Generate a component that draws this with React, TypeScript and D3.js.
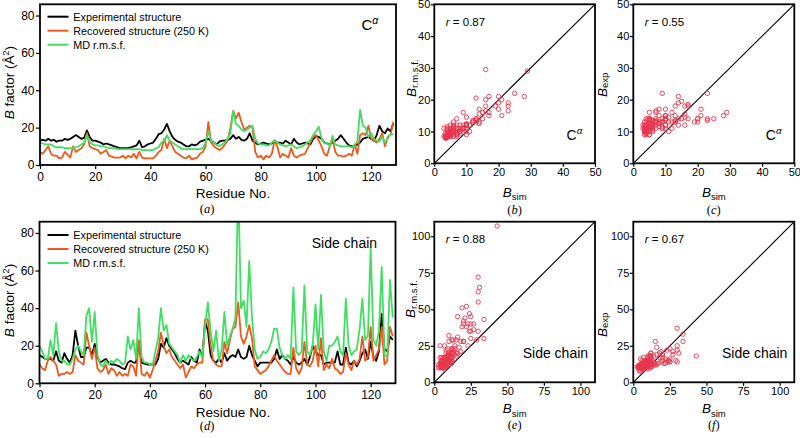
import { useEffect, useRef } from "react";
import * as d3 from "d3";

// B factors per residue (index 0..128), C-alpha atoms
const caExp = [
  13, 13.5, 13, 14, 13, 13.5, 12.5, 13, 13, 14,
  13.5, 14, 15, 16, 15, 14, 14.5, 18.5, 15, 13,
  13, 12.5, 12, 11, 11.5, 11, 10.5, 10, 9.5, 9,
  9, 9, 9, 9.5, 10, 10.5, 13, 9.5, 10, 11,
  11.5, 12, 14, 16.5, 17, 19, 22, 18, 15, 13.5,
  12.5, 12, 11, 10, 10, 11, 10.5, 11, 12.5, 13,
  13.5, 14, 13, 12, 11, 12.5, 13, 13, 13.5, 14,
  16, 14, 15, 13.5, 13, 14, 17, 13, 12, 11,
  11.5, 12, 11.5, 11, 11.5, 13, 12, 12, 11.5, 13,
  12, 11, 14, 12, 11, 11.5, 12, 11.5, 11, 14,
  15.5, 15, 14, 12, 11.5, 11, 12, 13, 14, 16,
  14, 12, 10.5, 10, 10, 11, 12, 14, 14.5, 15,
  14, 13, 16, 21, 18, 17, 19.5, 18, 22,
];
const caRec = [
  7, 6, 8, 10, 6, 5, 5, 3.5, 4, 7,
  5.5, 4, 10, 7, 8, 9, 11, 17, 10, 9,
  8.5, 8, 6, 7, 8, 5, 4.5, 4, 4, 4,
  5, 3.5, 5, 4, 6, 3.5, 7, 4, 3.5, 3.5,
  3.5, 3.5, 5, 7, 8, 14, 9, 13, 10, 7,
  6, 5, 4, 3.5, 5, 3, 3.5, 4, 6, 7,
  10, 23, 12, 10, 9, 8, 9, 11, 13, 20,
  29, 25, 28, 23, 19, 20, 21, 20, 7, 4,
  5, 3, 5, 4, 6, 13, 10, 4, 6, 5,
  4, 9, 5, 4, 5, 5.5, 6, 9, 12, 15,
  16, 13, 10, 6, 5, 10, 14, 7, 5, 5,
  4.5, 5, 6, 5, 11, 6, 16, 17, 16, 21,
  14, 13, 12, 14, 17, 10, 15, 16, 23,
];
const caMd = [
  12, 11.5, 11, 11, 11, 10, 9.5, 9.5, 9.5, 9,
  9, 9, 9, 9.5, 10, 11, 12, 16, 12.5, 11,
  10.5, 10.5, 10, 10, 9.5, 9, 9, 9, 8.5, 8.5,
  8.5, 8.5, 8.5, 8.5, 8.5, 8.5, 8.5, 8, 8, 8,
  8, 8, 9, 9.5, 12, 13, 16, 13, 12, 11,
  10, 9, 8.5, 8.5, 8.5, 8.5, 8.5, 8.5, 8.5, 9,
  12, 18, 13, 12, 11, 10, 11, 12, 14, 17,
  29, 22, 21, 19, 18, 19, 20, 21, 14, 11.5,
  11, 11, 10.5, 10.5, 12, 13.5, 12, 11, 10.5, 10,
  10.5, 11, 10, 9, 9.5, 10, 11, 12, 13.5, 16,
  18, 20.5, 14.5, 11.5, 12, 10, 15.5, 11, 10.5, 10,
  10, 10, 10, 9.5, 10, 13, 29.5, 21, 20, 15,
  17, 14, 13, 12.5, 15, 12, 14, 16.5, 16.5,
];

// side chain atoms
const scExp = [
  15, 14, 13, 13, 13, 12, 17, 12, 11, 16,
  13, 11, 15, 28, 20, 14, 14, 19, 19, 15,
  21, 14, 11, 12, 13, 11, 10, 10, 9.5, 9,
  8, 7.5, 11, 12, 11, 11, 22, 11, 10.5, 10,
  10, 10, 10, 13, 21, 19, 24, 20, 18, 16,
  13, 11, 12, 11, 10, 14, 12, 11, 18, 14,
  33, 28, 15, 12, 11, 13, 11, 16, 12, 14,
  15, 14, 18, 14, 13, 14, 20, 15, 12, 9,
  11, 11, 11, 11, 11, 13, 18, 13, 15, 13,
  12, 10, 14, 11, 10, 11, 13, 10, 14, 20,
  17, 15, 15, 10, 11, 11, 11, 11, 17, 10,
  10, 19, 11, 10, 12, 9, 12, 16, 18, 13,
  22, 14, 12, 17, 37, 18, 17, 25, 23,
];
const scRec = [
  10, 8, 7, 12, 14, 12, 10, 4, 5, 5,
  6, 5, 6, 15, 12, 11, 10, 27, 20, 13,
  19, 8, 6, 7, 10, 5, 8, 7, 4, 6,
  4, 5, 4, 10, 9, 4, 23, 5, 4, 6,
  3, 7, 12, 17, 27, 20, 16, 18, 14, 12,
  10, 8, 10, 3, 6, 9, 8, 10, 11, 11,
  34, 34, 20, 12, 10, 9, 9, 22, 16, 23,
  29, 30, 43, 25, 21, 25, 31, 24, 9, 7,
  5, 6, 7, 9, 12, 15, 12, 10, 8, 6,
  5, 5, 19, 8, 5, 8, 22, 10, 9, 12,
  20, 9, 24, 7, 10, 8, 13, 8, 7, 5,
  6, 16, 10, 7, 12, 10, 13, 25, 12, 14,
  30, 12, 15, 18, 30, 10, 12, 30, 25,
];
const scMd = [
  20, 17, 13, 13, 23, 15, 32, 17, 12, 12,
  10, 10, 13, 18, 20, 17, 15, 36, 40, 22,
  38, 15, 10, 9, 12, 10, 12, 11, 13, 12,
  10, 11, 25, 18, 23, 13, 40, 14, 11, 11,
  10, 10, 17, 24, 40, 28, 31, 21, 19, 17,
  15, 11, 15, 12, 15, 13, 12, 14, 17, 14,
  30, 43, 28, 17, 28, 12, 18, 38, 20, 25,
  29, 35, 107, 40, 44, 30, 65, 35, 18, 13,
  14, 17, 16, 18, 22, 29, 29, 19, 15, 13,
  15, 13, 51, 17, 15, 17, 52, 17, 15, 20,
  42, 18, 47, 17, 12, 20, 20, 22, 25, 17,
  15, 45, 20, 15, 17, 18, 29, 45, 23, 25,
  72, 23, 20, 28, 62, 15, 14, 55, 35,
];

const legendLabels = ["Experimental structure", "Recovered structure (250 K)", "MD r.m.s.f."];
const seriesColors = ["#000000", "#ec5a1c", "#3fe062"];
const lineXTicks = [0, 20, 40, 60, 80, 100, 120];
const lineYTicks = [0, 20, 40, 60, 80];
const caScatterTicks = [0, 10, 20, 30, 40, 50];
const scScatterTicks = [0, 25, 50, 75, 100];
const rValues = ["0.87", "0.55", "0.88", "0.67"];

const SANS = "'Liberation Sans', Arial, sans-serif";
const SERIF = "'Liberation Serif', 'Times New Roman', serif";
const POINT = "#e8364e";

type Sel = d3.Selection<SVGGElement, unknown, null, undefined>;

function frame(g: Sel, x0: number, x1: number, y0: number, y1: number) {
  g.append("rect")
    .attr("x", x0).attr("y", y0)
    .attr("width", x1 - x0).attr("height", y1 - y0)
    .attr("fill", "none").attr("stroke", "#000").attr("stroke-width", 1.8);
}

function styleAxis(ax: Sel, size: number) {
  ax.select(".domain").remove();
  ax.selectAll("line").attr("stroke", "#000").attr("stroke-width", 1.2);
  ax.selectAll("text").attr("font-family", SANS).attr("font-size", size).attr("fill", "#000");
}

function panelTag(g: Sel, x: number, y: number, letter: string) {
  const t = g.append("text").attr("x", x).attr("y", y).attr("text-anchor", "middle")
    .attr("font-family", SERIF).attr("font-size", 12.5);
  t.append("tspan").text("(");
  t.append("tspan").attr("font-style", "italic").text(letter);
  t.append("tspan").text(")");
}

function calpha(g: Sel, x: number, y: number, size: number) {
  const t = g.append("text").attr("x", x).attr("y", y)
    .attr("font-family", SANS).attr("font-size", size);
  t.append("tspan").text("C");
  t.append("tspan").attr("dy", -size * 0.42).attr("font-size", size * 0.7)
    .attr("font-style", "italic").text("α");
}

function drawLinePanel(
  svg: Sel, id: string,
  x0: number, x1: number, y0: number, y1: number,
  series: number[][], legendTop: number,
  tag: "ca" | "sc", titleY: number, letterY: number, letter: string,
) {
  const g = svg.append("g");
  const x = d3.scaleLinear().domain([0, 129]).range([x0, x1]);
  const y = d3.scaleLinear().domain([0, 86]).range([y1, y0]);

  g.append("clipPath").attr("id", id)
    .append("rect").attr("x", x0).attr("y", y0).attr("width", x1 - x0).attr("height", y1 - y0);

  const line = d3.line<number>().x((_, i) => x(i)).y((d) => y(d));
  const lines = g.append("g").attr("clip-path", `url(#${id})`);
  series.forEach((s, k) => {
    lines.append("path").datum(s).attr("d", line)
      .attr("fill", "none").attr("stroke", seriesColors[k])
      .attr("stroke-width", 1.8).attr("stroke-linejoin", "round");
  });

  const ax = g.append("g").attr("transform", `translate(0,${y1})`)
    .call(d3.axisBottom(x).tickValues(lineXTicks).tickSize(4).tickPadding(3));
  styleAxis(ax, 12);
  const ay = g.append("g").attr("transform", `translate(${x0},0)`)
    .call(d3.axisLeft(y).tickValues(lineYTicks).tickSize(4).tickPadding(1.5));
  styleAxis(ay, 12);
  frame(g, x0, x1, y0, y1);

  // legend
  legendLabels.forEach((lab, k) => {
    const ly = legendTop + k * 14;
    g.append("line").attr("x1", 47.5).attr("x2", 68.5).attr("y1", ly).attr("y2", ly)
      .attr("stroke", seriesColors[k]).attr("stroke-width", 2);
    g.append("text").attr("x", 73.3).attr("y", ly + 3.9)
      .attr("font-family", SANS).attr("font-size", 10.8).text(lab);
  });

  if (tag === "ca") calpha(g, 361.5, y0 + 25.5, 15);
  else g.append("text").attr("x", 311.7).attr("y", y0 + 26.5)
    .attr("font-family", SANS).attr("font-size", 14).text("Side chain");

  g.append("text").attr("x", 233).attr("y", titleY).attr("text-anchor", "middle")
    .attr("font-family", SANS).attr("font-size", 13.5).text("Residue No.");

  const yl = g.append("text")
    .attr("transform", `translate(13.5,${(y0 + y1) / 2 - 2}) rotate(-90)`)
    .attr("text-anchor", "middle").attr("font-family", SANS).attr("font-size", 13.5);
  yl.append("tspan").attr("font-style", "italic").text("B");
  yl.append("tspan").text(" factor (Å");
  yl.append("tspan").attr("dy", -5).attr("font-size", 9).text("2");
  yl.append("tspan").attr("dy", 5).text(")");

  panelTag(g, 207, letterY, letter);
}

function drawScatter(
  svg: Sel, x0: number, x1: number, y0: number, y1: number,
  xs: number[], ys: number[], max: number, ticks: number[],
  yName: string, yLabelX: number, yLabelStart: number,
  r: string, tag: "ca" | "sc", simY: number, letterY: number, letter: string,
) {
  const g = svg.append("g");
  const x = d3.scaleLinear().domain([0, max]).range([x0, x1]);
  const y = d3.scaleLinear().domain([0, max]).range([y1, y0]);

  g.append("line").attr("x1", x(0)).attr("y1", y(0)).attr("x2", x(max)).attr("y2", y(max))
    .attr("stroke", "#000").attr("stroke-width", 1.1);

  g.append("g").selectAll("circle").data(xs).join("circle")
    .attr("cx", (d) => x(d)).attr("cy", (_, i) => y(ys[i])).attr("r", 2.2)
    .attr("fill", "none").attr("stroke", POINT).attr("stroke-width", 0.9);

  const ax = g.append("g").attr("transform", `translate(0,${y1})`)
    .call(d3.axisBottom(x).tickValues(ticks).tickSize(3.5).tickPadding(1.5));
  styleAxis(ax, 11);
  const ay = g.append("g").attr("transform", `translate(${x0},0)`)
    .call(d3.axisLeft(y).tickValues(ticks).tickSize(3.5).tickPadding(0.5));
  styleAxis(ay, 11);
  frame(g, x0, x1, y0, y1);

  const rt = g.append("text").attr("x", x0 + 11.5).attr("y", y0 + 21.5)
    .attr("font-family", SANS).attr("font-size", 11.5);
  rt.append("tspan").attr("font-style", "italic").text("r");
  rt.append("tspan").text(` = ${r}`);

  if (tag === "ca") calpha(g, x1 - 28.5, y0 + 136, 14);
  else g.append("text").attr("x", x1 - 72.3).attr("y", y0 + 136.5)
    .attr("font-family", SANS).attr("font-size", 14).text("Side chain");

  const xl = g.append("text").attr("x", (x0 + x1) / 2).attr("y", simY)
    .attr("text-anchor", "middle").attr("font-family", SANS).attr("font-size", 13.5);
  xl.append("tspan").attr("font-style", "italic").text("B");
  xl.append("tspan").attr("dy", 3.5).attr("font-size", 9.5).text("sim");

  const yl = g.append("text")
    .attr("transform", `translate(${yLabelX},${yLabelStart}) rotate(-90)`)
    .attr("font-family", SANS).attr("font-size", 13.5);
  yl.append("tspan").attr("font-style", "italic").text("B");
  yl.append("tspan").attr("dy", 1.5).attr("font-size", 9.5).text(yName);

  panelTag(g, (x0 + x1) / 2, letterY, letter);
}

export default function App() {
  const ref = useRef<SVGSVGElement>(null);

  useEffect(() => {
    const root = d3.select(ref.current);
    root.selectAll("*").remove();
    const svg = root.append("g") as unknown as Sel;

    drawLinePanel(svg, "clipA", 40, 396, 4.3, 165, [caExp, caRec, caMd], 16.7, "ca", 198.3, 213, "a");
    drawLinePanel(svg, "clipD", 39.5, 395.5, 221.7, 383.3, [scExp, scRec, scMd], 235, "sc", 416.5, 430, "d");

    drawScatter(svg, 434.3, 595, 4.3, 163.3, caRec, caMd, 50, caScatterTicks,
      "r.m.s.f.", 416, 97, rValues[0], "ca", 196.5, 213.5, "b");
    drawScatter(svg, 633.3, 794.3, 4.3, 163.3, caRec, caExp, 50, caScatterTicks,
      "exp", 606.5, 97, rValues[1], "ca", 196.5, 213.5, "c");
    drawScatter(svg, 434.3, 595, 221.7, 382.3, scRec, scMd, 110, scScatterTicks,
      "r.m.s.f.", 415, 318, rValues[2], "sc", 413, 429, "e");
    drawScatter(svg, 633.3, 794.3, 221.7, 382.3, scRec, scExp, 110, scScatterTicks,
      "exp", 606.5, 337, rValues[3], "sc", 413, 429, "f");
  }, []);

  return (
    <svg
      ref={ref}
      width={800}
      height={438}
      style={{ position: "absolute", left: 0, top: 0, background: "#fff" }}
    />
  );
}
